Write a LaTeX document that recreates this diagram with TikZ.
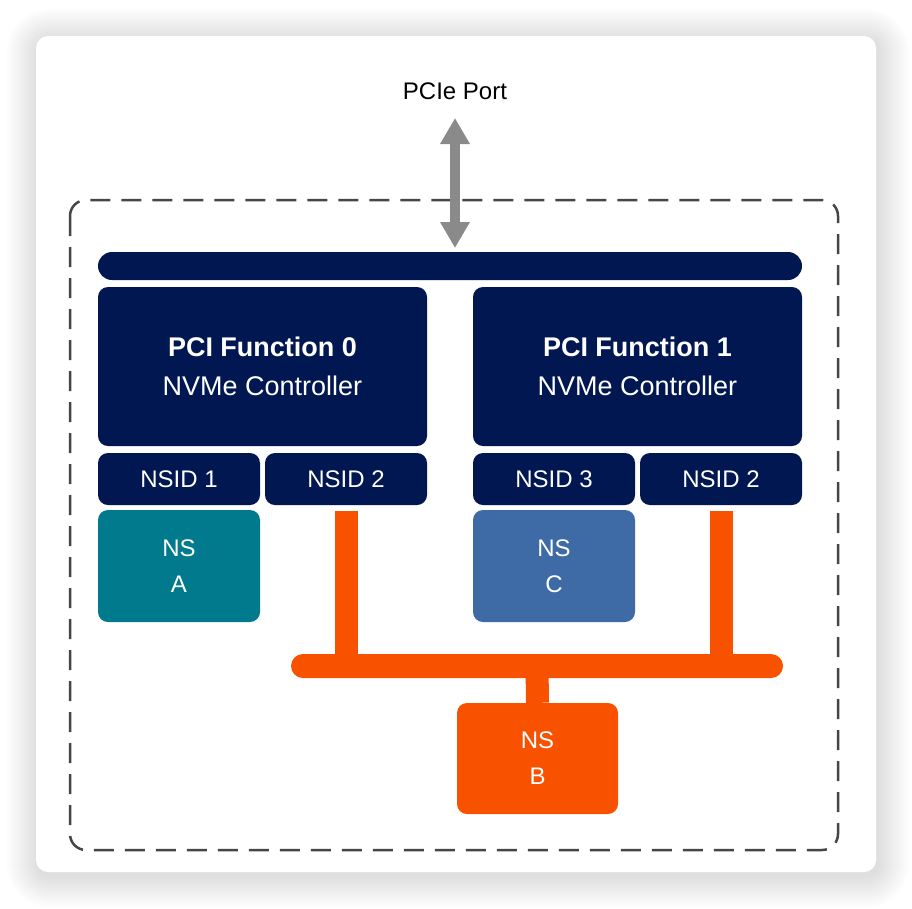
\documentclass[tikz,border=0pt]{standalone}
\usepackage{fontspec}
\setmainfont{Liberation Sans}
\usetikzlibrary{arrows.meta,calc}
\definecolor{navy}{RGB}{0,23,81}
\definecolor{tealns}{RGB}{0,122,140}
\definecolor{bluens}{RGB}{62,107,165}
\definecolor{orangens}{RGB}{248,82,0}
\definecolor{arrowgray}{RGB}{138,138,138}
\definecolor{dashgray}{RGB}{70,70,70}
\tikzset{
  navybox/.style={fill=navy, rounded corners=10pt, text=white, align=center, inner sep=0pt},
  nsbox/.style={rounded corners=10pt, text=white, align=center, inner sep=0pt,
    minimum width=162pt, minimum height=112pt, font=\fontsize{24}{36}\selectfont},
  nsidbox/.style={navybox, minimum width=162pt, minimum height=52pt, font=\fontsize{24}{28}\selectfont},
  funcbox/.style={navybox, minimum width=329pt, minimum height=159pt, font=\fontsize{27}{39}\selectfont},
  orangeline/.style={draw=orangens, line width=23pt},
}
\begin{document}
\begin{tikzpicture}[x=1pt,y=-1pt]
\useasboundingbox (0,0) rectangle (912,908);
\fill[white] (0,0) rectangle (912,908);
% shadow of the card
\foreach \r in {1,...,32}{
  \fill[black, opacity=0.0045, rounded corners={12+\r}] (36-\r+2,36-\r+4) rectangle (876+\r+2,872+\r+4);
}
\fill[white, rounded corners=12pt] (36,36) rectangle (876,872);
% dashed frame
\draw[dashgray, line width=2.5pt, dash pattern=on 20pt off 11pt, rounded corners=16pt] (70,200) rectangle (838,850);
% top bar
\node[fill=navy, rounded corners=14pt, minimum width=704pt, minimum height=28pt, inner sep=0pt] (bar) at (450,266) {};
% PCIe port
\node[font=\fontsize{24}{28}\selectfont, text=black] (port) at (455,91) {PCIe Port};
\coordinate (atop) at (455,118);
\coordinate (abot) at (455,248);
\draw[arrowgray, line width=10pt, {Triangle[width=28pt,length=26pt]}-{Triangle[width=28pt,length=26pt]}] (atop) -- (abot);
% functions
\node[funcbox] (f0) at (262.5,366.5) {\textbf{PCI Function 0}\\NVMe Controller};
\node[funcbox] (f1) at (637.5,366.5) {\textbf{PCI Function 1}\\NVMe Controller};
% NSIDs
\node[nsidbox] (id1) at (179,479) {NSID 1};
\node[nsidbox] (id2a) at (346,479) {NSID 2};
\node[nsidbox] (id3) at (554,479) {NSID 3};
\node[nsidbox] (id2b) at (721,479) {NSID 2};
% namespaces
\node[nsbox, fill=tealns] (nsa) at (179,566) {NS\\A};
\node[nsbox, fill=bluens] (nsc) at (554,566) {NS\\C};
\node[nsbox, fill=orangens, minimum width=161pt, minimum height=111pt] (nsb) at (537.5,758.5) {NS\\B};
% orange bus
\node[fill=orangens, rounded corners=12pt, minimum width=492pt, minimum height=24pt, inner sep=0pt] (bus) at (537,666) {};
\draw[orangeline, shorten <=6pt] (id2a.south) -- (id2a.south |- bus.center);
\draw[orangeline, shorten <=6pt] (id2b.south) -- (id2b.south |- bus.center);
\draw[orangeline] (bus.center) -- (nsb.north);
\end{tikzpicture}
\end{document}
